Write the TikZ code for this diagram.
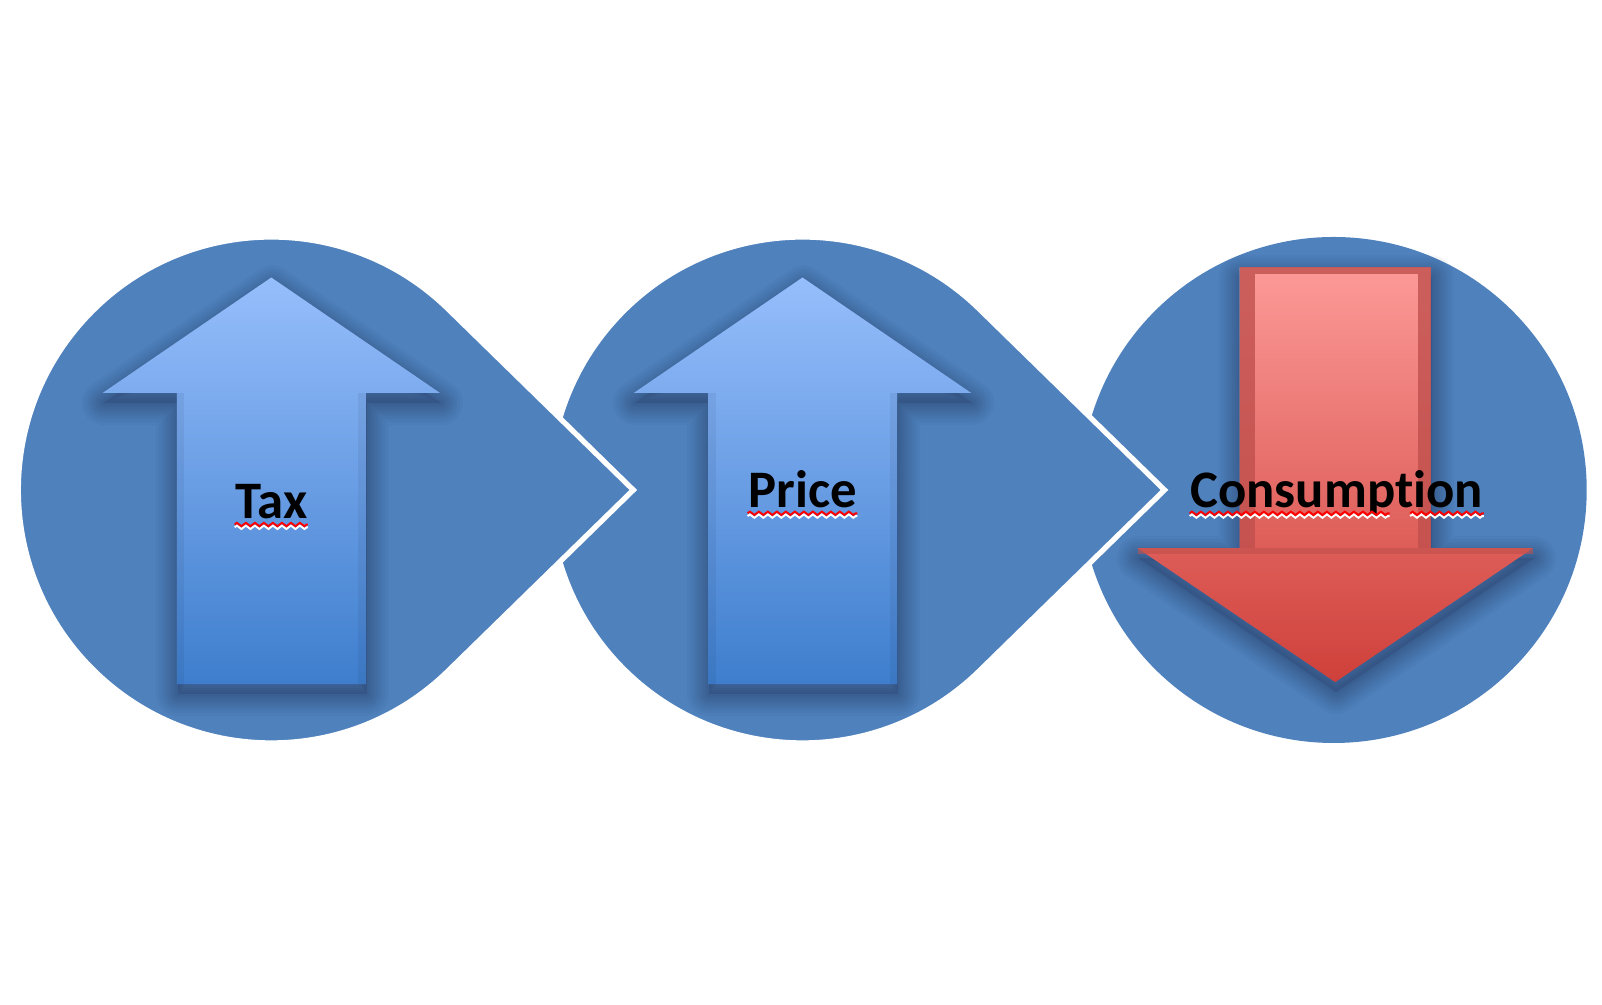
\documentclass[tikz,border=0pt]{standalone}
\usepackage{fontspec}
\setmainfont{Carlito}[Ligatures=NoCommon]
\usepackage{tikz}
\usetikzlibrary{calc,decorations.pathmorphing}
\definecolor{disc}{RGB}{79,129,189}
\definecolor{skylite}{RGB}{150,190,252}
\definecolor{skydeep}{RGB}{62,126,205}
\definecolor{rosy}{RGB}{252,154,152}
\definecolor{crimson}{RGB}{207,64,58}
\definecolor{rim}{RGB}{192,80,77}
\definecolor{dusk}{RGB}{20,30,60}
\tikzset{pics/drop/.style={code={
  \pgfmathsetmacro\ang{acos(2.53/3.62)}
  \fill[disc,draw=white,line width=1.5pt] (3.62,0) -- (\ang:2.53)
    arc[start angle=\ang,end angle=360-\ang,radius=2.53] -- cycle;
}},
pics/uparrow/.style={code={
  \fill[dusk,opacity=0.14,shift={(0.01,-0.1)}]
    (-0.945,-1.941) -- (-0.945,0.971) -- (-1.686,0.971) -- (0,2.125) -- (1.686,0.971) -- (0.945,0.971) -- (0.945,-1.941) -- cycle;
  \foreach \w in {0.44,0.38,0.32,0.27,0.22,0.17,0.12,0.08,0.04}
    \draw[dusk,opacity=0.04,line width=\w cm,line join=round,shift={(0.01,-0.1)}]
      (-0.945,-1.941) -- (-0.945,0.971) -- (-1.686,0.971) -- (0,2.125) -- (1.686,0.971) -- (0.945,0.971) -- (0.945,-1.941) -- cycle;
  \shade[top color=skylite,bottom color=skydeep]
    (-0.945,-1.941) -- (-0.945,0.971) -- (-1.686,0.971) -- (0,2.125) -- (1.686,0.971) -- (0.945,0.971) -- (0.945,-1.941) -- cycle;
  \fill[dusk,opacity=0.07] (-0.945,-1.941) rectangle (-0.87,0.971);
  \fill[dusk,opacity=0.07] (0.87,-1.941) rectangle (0.945,0.971);
}},
pics/downarrow/.style={code={
  \fill[dusk,opacity=0.14,shift={(0.01,-0.1)}]
    (-0.955,2.227) -- (0.955,2.227) -- (0.955,-0.582) -- (1.977,-0.582) -- (0,-1.921) -- (-1.977,-0.582) -- (-0.955,-0.582) -- cycle;
  \foreach \w in {0.44,0.38,0.32,0.27,0.22,0.17,0.12,0.08,0.04}
    \draw[dusk,opacity=0.04,line width=\w cm,line join=round,shift={(0.01,-0.1)}]
      (-0.955,2.227) -- (0.955,2.227) -- (0.955,-0.582) -- (1.977,-0.582) -- (0,-1.921) -- (-1.977,-0.582) -- (-0.955,-0.582) -- cycle;
  \shade[top color=rosy,bottom color=crimson]
    (-0.955,2.227) -- (0.955,2.227) -- (0.955,-0.582) -- (1.977,-0.582) -- (0,-1.921) -- (-1.977,-0.582) -- (-0.955,-0.582) -- cycle;
  \fill[rim,opacity=0.8] (-0.955,-0.582) rectangle (-0.8,2.227);
  \fill[rim,opacity=0.8] (0.83,-0.582) rectangle (0.955,2.227);
  \fill[rim,opacity=0.8] (-0.8,2.16) rectangle (0.83,2.227);
  \fill[rim,opacity=0.6] (-1.977,-0.582) rectangle (1.977,-0.64);
}},
word/.style={font=\bfseries\fontsize{15pt}{18pt}\selectfont,inner sep=0pt,anchor=base},
squiggle/.style={line width=0.55pt,decorate,decoration={zigzag,segment length=0.9mm,amplitude=0.17mm}}}

\begin{document}
\begin{tikzpicture}
    \useasboundingbox (0,0) rectangle (16.02,10.05);
    \coordinate (c1) at (2.713,5.15);
    \coordinate (c2) at (8.025,5.15);
    \coordinate (c3) at (13.337,5.15);
    \fill[disc] (c3) circle (2.53);
    \pic at (c2) {drop};
    \pic at (c1) {drop};
    \pic at (c1) {uparrow};
    \pic at (c2) {uparrow};
    \pic at ($(c3)+(0.015,0)$) {downarrow};
    \foreach \n/\c/\dx/\dy/\t in {tax/c1/0/-0.29/Tax,price/c2/0/-0.178/Price,cons/c3/0.03/-0.178/Consumption}
      \node[word] (\n) at ($(\c)+(\dx,\dy)$) {\t};
    \foreach \col/\s in {white/-0.28mm,red/0mm}
    {
      \draw[squiggle,\col,transform canvas={yshift=\s}] ([yshift=-0.55mm]tax.base west) -- ([yshift=-0.55mm]tax.base east);
      \draw[squiggle,\col,transform canvas={yshift=\s}] ([yshift=-0.55mm]price.base west) -- ([yshift=-0.55mm]price.base east);
      \draw[squiggle,\col,transform canvas={yshift=\s}] ([yshift=-0.55mm]cons.base west) -- ($([yshift=-0.55mm]cons.base west)!0.68!([yshift=-0.55mm]cons.base east)$);
      \draw[squiggle,\col,transform canvas={yshift=\s}] ($([yshift=-0.55mm]cons.base west)!0.75!([yshift=-0.55mm]cons.base east)$) -- ([yshift=-0.55mm]cons.base east);
    }
\end{tikzpicture}
\end{document}
